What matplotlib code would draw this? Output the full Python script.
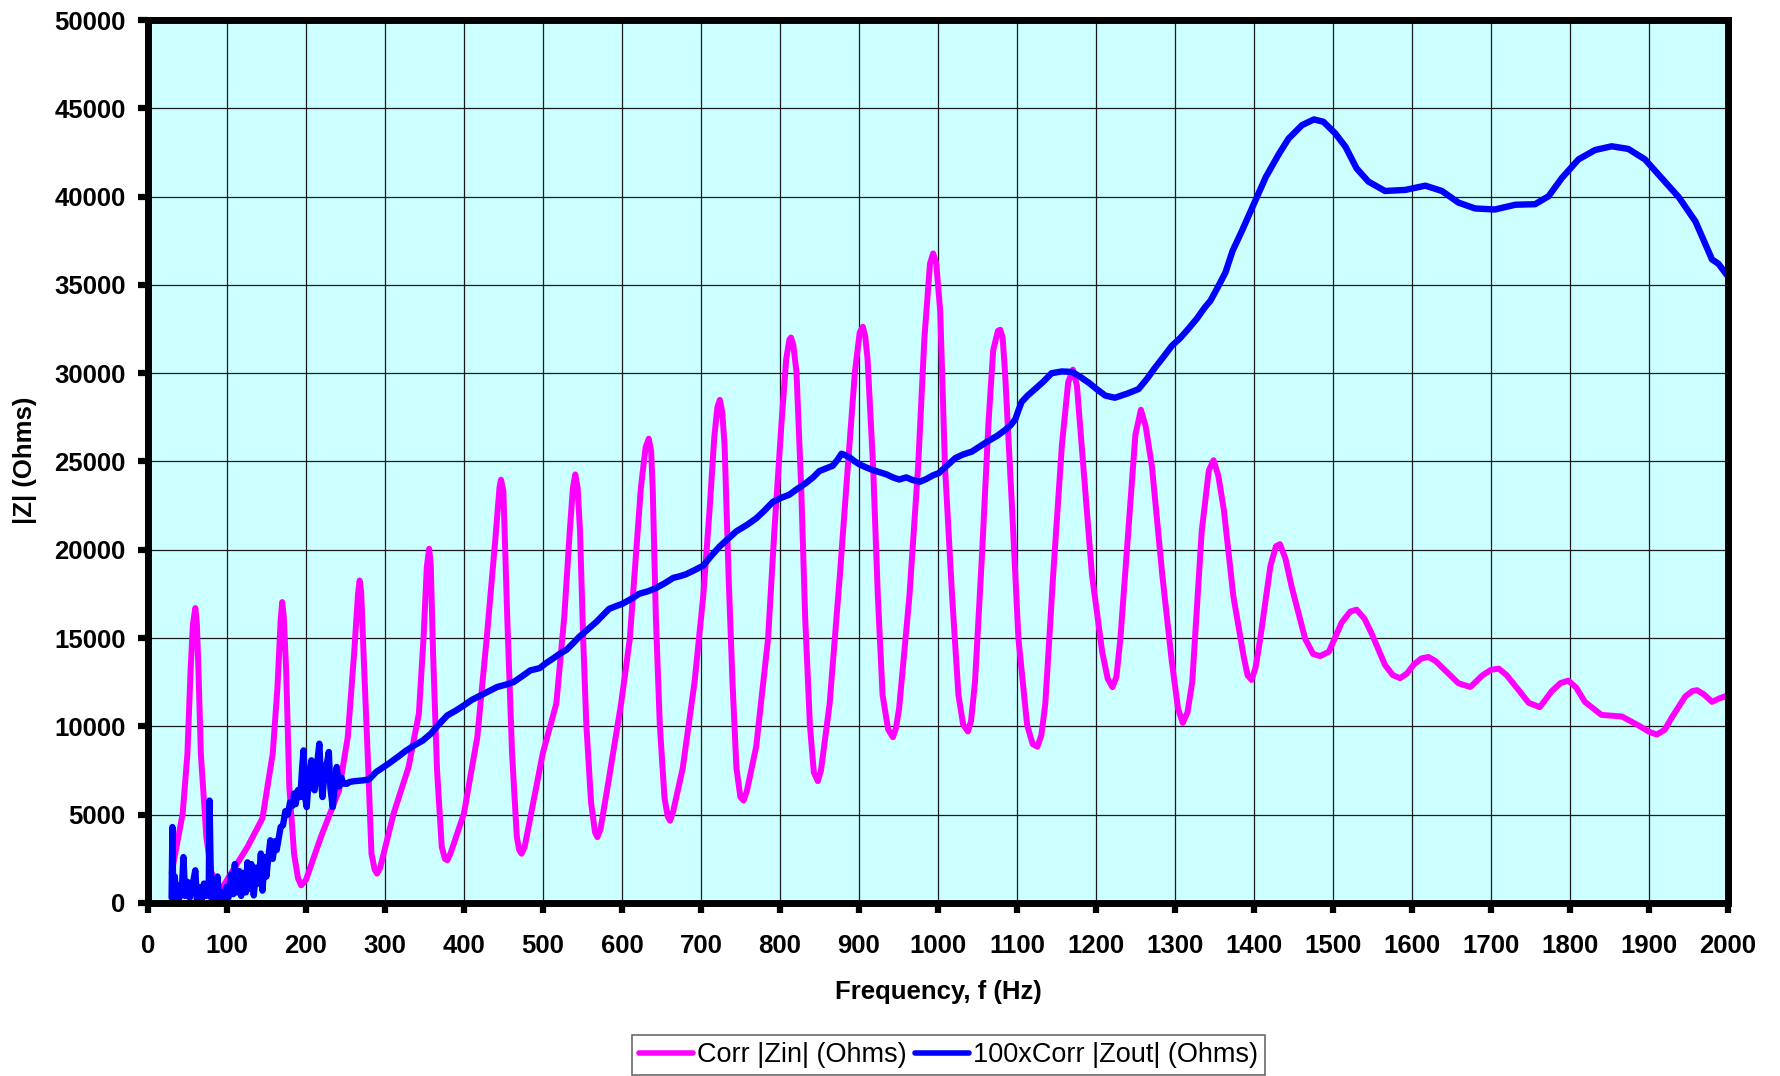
import matplotlib.pyplot as plt
import numpy as np

plt.rcParams['font.family'] = ['Liberation Sans', 'DejaVu Sans']

# Corr |Zin| (Ohms)
zin_f = [30, 44, 50, 54, 57, 60, 62, 64, 67, 74, 80, 88, 96, 105, 126, 145, 158, 164, 168, 170,
         172, 175, 179, 185, 190, 194, 200, 219, 242, 253, 261, 266, 268, 270, 273, 279, 283, 287,
         290, 294, 311, 330, 343, 349, 353, 356, 358, 361, 366, 372, 376, 379, 383, 400, 417, 429,
         440, 445, 447, 450, 455, 461, 467, 470, 473, 477, 500, 517, 527, 534, 538, 541, 544, 547,
         551, 555, 561, 566, 569, 573, 584, 599, 610, 618, 624, 630, 634, 637, 639, 643, 648, 654,
         658, 661, 665, 677, 692, 703, 711, 717, 721, 724, 727, 730, 735, 740, 745, 750, 754, 758,
         770, 785, 793, 802, 808, 812, 814, 817, 821, 827, 832, 838, 843, 848, 852, 863, 876, 886,
         895, 901, 905, 908, 911, 918, 924, 930, 937, 943, 947, 951, 964, 975, 983, 990, 994, 998,
         1003, 1009, 1018, 1026, 1032, 1038, 1042, 1047, 1056, 1064, 1070, 1076, 1079, 1082, 1085,
         1094, 1102, 1113, 1120, 1126, 1131, 1136, 1146, 1157, 1165, 1171, 1176, 1182, 1195, 1208,
         1215, 1221, 1226, 1231, 1241, 1250, 1257, 1263, 1271, 1284, 1296, 1304, 1310, 1316, 1322,
         1334, 1343, 1349, 1355, 1362, 1374, 1387, 1392, 1397, 1402, 1408, 1421, 1428, 1433, 1440,
         1448, 1465, 1475, 1484, 1495, 1511, 1522, 1530, 1540, 1549, 1566, 1576, 1585, 1594, 1602,
         1612, 1621, 1630, 1642, 1659, 1674, 1689, 1700, 1710, 1720, 1731, 1748, 1762, 1777, 1788,
         1798, 1808, 1819, 1840, 1866, 1887, 1900, 1910, 1920, 1929, 1946, 1955, 1961, 1970, 1980,
         1990, 2000]
zin = [1700, 5060, 8450, 13170, 15800, 16700, 15800, 13170, 8450, 3740, 1800, 800, 1000, 1660,
       3170, 4800, 8450, 12230, 16000, 17040, 16200, 13170, 6560, 2790, 1400, 1000, 1300, 3740,
       6380, 9400, 14110, 17500, 18260, 17600, 14110, 7510, 2790, 1900, 1660, 2000, 5060, 7700,
       10720, 15060, 19000, 20060, 19200, 14110, 7510, 3170, 2500, 2420, 2800, 5060, 9400, 15060,
       20700, 23500, 23970, 23300, 16000, 8450, 3740, 3000, 2790, 3200, 8500, 11290, 16170, 21050,
       23500, 24270, 23500, 21050, 14950, 10070, 5680, 4000, 3730, 4200, 7150, 11290, 14950, 19830,
       23490, 25800, 26290, 25600, 23490, 16170, 10070, 5930, 4900, 4660, 5200, 7630, 12510, 17390,
       22270, 26410, 28100, 28490, 27800, 25930, 18610, 12510, 7630, 6000, 5800, 6300, 8850, 14950,
       21050, 27150, 30800, 31900, 32020, 31600, 30070, 23490, 16170, 10070, 7390, 6900, 7500,
       11290, 18610, 24710, 30070, 32300, 32630, 32100, 30800, 24710, 17390, 11780, 9830, 9390,
       9900, 11050, 17390, 24710, 32020, 36200, 36780, 36200, 33500, 24710, 17390, 11780, 10100,
       9710, 10300, 12510, 19830, 27150, 31290, 32400, 32460, 32000, 30070, 22270, 14950, 10070,
       9000, 8850, 9500, 11290, 18610, 25930, 29500, 30200, 29300, 25930, 18610, 14220, 12700,
       12220, 12800, 14950, 21050, 26500, 27930, 27000, 24710, 18610, 13730, 11000, 10200, 10800,
       12510, 21050, 24500, 25070, 24200, 22270, 17390, 13980, 12900, 12630, 13300, 14950, 19100,
       20200, 20320, 19500, 17880, 14950, 14100, 13980, 14230, 15870, 16500, 16610, 16100, 15270,
       13480, 12900, 12730, 13000, 13480, 13850, 13930, 13700, 13180, 12440, 12230, 12880, 13200,
       13270, 12900, 12290, 11330, 11090, 11990, 12450, 12590, 12200, 11390, 10650, 10560, 10050,
       9700, 9540, 9800, 10500, 11690, 12000, 12050, 11800, 11390, 11600, 11750]

# 100xCorr |Zout| (Ohms)
zout_f = [30, 31, 32, 34, 36, 38, 40, 43, 45, 47, 50, 53, 56, 60, 62, 65, 68, 71, 74, 77, 78, 80,
          83, 86, 88, 90, 93, 96, 99, 102, 105, 108, 110, 113, 116, 118, 121, 124, 126, 129, 131,
          134, 137, 140, 143, 145, 148, 150, 152, 155, 158, 161, 163, 166, 168, 171, 174, 177, 180,
          183, 185, 187, 190, 193, 195, 197, 199, 201, 204, 207, 209, 211, 214, 217, 219, 221, 224,
          227, 229, 231, 234, 237, 239, 242, 245, 247, 252, 255, 262, 272, 280, 289, 295, 305, 316,
          326, 337, 348, 358, 368, 379, 390, 400, 410, 421, 432, 442, 452, 463, 474, 484, 496, 503,
          513, 521, 530, 538, 546, 557, 568, 576, 584, 592, 601, 611, 622, 633, 643, 654, 665, 673,
          681, 692, 703, 713, 724, 735, 745, 758, 770, 780, 791, 802, 812, 822, 833, 842, 850, 858,
          867, 873, 878, 883, 888, 895, 901, 910, 918, 926, 935, 943, 951, 960, 968, 977, 985, 994,
          1001, 1013, 1022, 1032, 1043, 1053, 1064, 1075, 1085, 1092, 1098, 1102, 1106, 1114, 1123,
          1133, 1144, 1157, 1170, 1180, 1191, 1201, 1212, 1224, 1240, 1254, 1265, 1275, 1286, 1296,
          1307, 1317, 1328, 1338, 1345, 1354, 1364, 1373, 1385, 1400, 1415, 1432, 1444, 1461, 1476,
          1488, 1503, 1516, 1530, 1545, 1566, 1592, 1617, 1638, 1659, 1680, 1705, 1731, 1756, 1773,
          1790, 1811, 1832, 1853, 1874, 1895, 1916, 1938, 1959, 1980, 1988, 1999]
zout = [300, 4300, 200, 1500, 200, 1000, 300, 800, 2600, 400, 1200, 300, 900, 1850, 200, 900, 150,
        1100, 400, 800, 5800, 300, 1000, 100, 1500, 300, 600, 100, 900, 300, 1600, 500, 2200, 600,
        1800, 400, 1700, 600, 2300, 800, 2200, 430, 2000, 1100, 2800, 700, 2600, 1500, 2400, 3550,
        2500, 3500, 3000, 3800, 4300, 4400, 5200, 5000, 5700, 5500, 6200, 5600, 6400, 6000, 7500,
        8640, 6000, 5430, 7200, 8080, 6500, 6380, 7800, 9020, 7000, 6000, 7600, 8000, 8550, 6500,
        5430, 7000, 7700, 6600, 7100, 6760, 6750, 6850, 6900, 6940, 7000, 7420, 7600, 7900, 8260,
        8600, 8920, 9200, 9580, 10100, 10620, 10900, 11190, 11500, 11750, 12000, 12230, 12350,
        12510, 12850, 13170, 13300, 13550, 13850, 14100, 14340, 14700, 15070, 15500, 15930, 16300,
        16660, 16800, 16950, 17200, 17510, 17650, 17830, 18100, 18410, 18500, 18610, 18850, 19100,
        19650, 20200, 20650, 21050, 21400, 21780, 22200, 22710, 22950, 23120, 23450, 23780, 24100,
        24460, 24600, 24760, 25100, 25440, 25350, 25240, 25000, 24830, 24650, 24510, 24400, 24270,
        24100, 23980, 24100, 23950, 23850, 24000, 24220, 24340, 24830, 25190, 25400, 25560, 25850,
        26170, 26450, 26780, 27050, 27390, 27900, 28370, 28750, 29100, 29500, 30000, 30100, 30070,
        29800, 29460, 29100, 28730, 28610, 28850, 29100, 29700, 30320, 30950, 31540, 32000, 32510,
        33100, 33730, 34100, 34840, 35700, 36920, 38070, 39590, 41100, 42440, 43290, 44050, 44370,
        44240, 43580, 42820, 41600, 40850, 40320, 40380, 40620, 40320, 39660, 39330, 39270, 39540,
        39570, 40020, 41060, 42110, 42640, 42850, 42700, 42110, 41060, 39960, 38590, 36440, 36200,
        35550]


def main():
    fig = plt.figure(figsize=(17.8, 10.76), dpi=100)
    ax = fig.add_axes([0.0831, 0.1608, 0.8876, 0.8206])
    ax.set_facecolor('#CCFFFF')

    ax.plot(zin_f, zin, color='#FF00FF', lw=4.3, label='Corr |Zin| (Ohms)',
            solid_joinstyle='round', solid_capstyle='round')
    ax.plot(zout_f, zout, color='#0000FF', lw=4.6, label='100xCorr |Zout| (Ohms)',
            solid_joinstyle='round', solid_capstyle='round')

    ax.set_xlim(0, 2000)
    ax.set_ylim(0, 50000)
    ax.set_xticks(np.arange(0, 2001, 100))
    ax.set_yticks(np.arange(0, 50001, 5000))
    ax.grid(color='#1a1a1a', lw=0.9)
    ax.set_axisbelow(True)

    for s in ax.spines.values():
        s.set_linewidth(5)
        s.set_color('black')
    ax.tick_params(direction='out', length=7, width=4.5, labelsize=18.5)
    ax.tick_params(axis='y', pad=9)
    ax.tick_params(axis='x', pad=15)
    for lab in ax.get_xticklabels() + ax.get_yticklabels():
        lab.set_fontweight('bold')

    ax.set_xlabel('Frequency, f (Hz)', fontsize=18.5, fontweight='bold', labelpad=16)
    fig.text(25 / 1780, 0.572, '|Z| (Ohms)', rotation=90, fontsize=18.5, fontweight='bold',
             ha='center', va='center')

    leg = fig.legend(loc='center', bbox_to_anchor=(0.533, 0.0195), ncol=2, fontsize=19.5,
                     frameon=True, fancybox=False, edgecolor='#444444', handlelength=2.0,
                     handletextpad=0.15, columnspacing=0.3, borderpad=0.25)
    leg.get_frame().set_linewidth(1.2)
    for line in leg.get_lines():
        line.set_linewidth(4)

    fig.savefig('out.png', dpi=100)


if __name__ == '__main__':
    main()
